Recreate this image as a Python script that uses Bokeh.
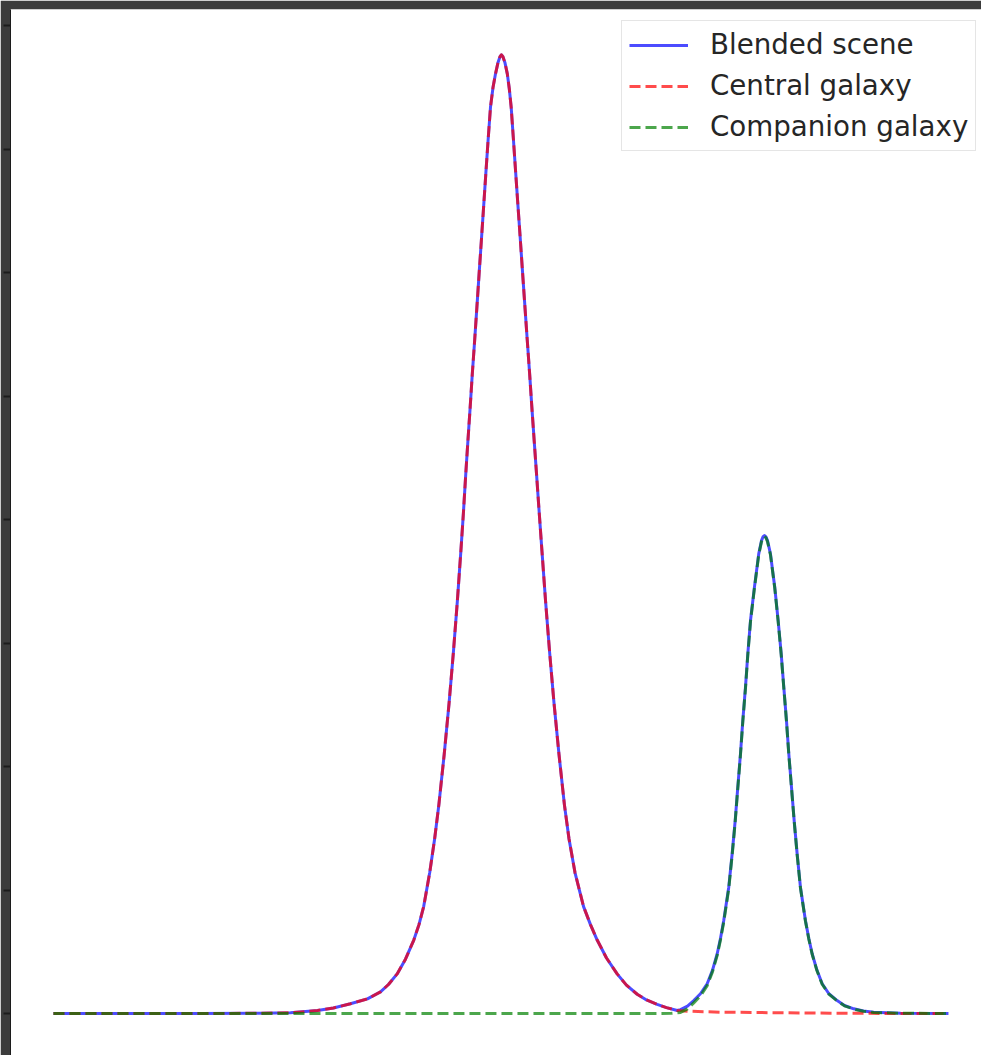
from bokeh.plotting import figure
from bokeh.models import Range1d, FixedTicker, Legend, LegendItem
from bokeh.embed import file_html
from bokeh.resources import INLINE

# ---- data (x in arbitrary position units, y = flux) ----
central_x = [0.00, 16.42, 23.13, 26.48, 29.50, 31.28, 33.18, 35.08, 36.54, 37.43,
             38.40, 39.33, 40.26, 40.84, 41.37, 42.04, 42.59, 43.06, 43.66, 44.20,
             44.68, 45.12, 45.52, 45.80, 46.07, 46.31, 46.56, 46.80, 47.06, 47.31,
             47.56, 47.81, 48.06, 48.31, 48.56, 48.83, 49.11, 49.39, 49.66, 49.89,
             50.06, 50.22, 50.45, 50.71, 50.93, 51.14, 51.40, 51.65, 51.91, 52.17,
             52.42, 52.68, 52.94, 53.20, 53.45, 53.71, 53.97, 54.28, 54.58, 54.99,
             55.44, 55.93, 56.48, 57.09, 57.60, 58.27, 59.22, 60.00, 60.75, 61.79,
             62.98, 64.02, 65.22, 66.26, 67.45, 68.49, 69.69, 71.17, 74.53, 80.11,
             86.82, 92.40, 100.00]
central_y = [0.0, 0.0, 0.002, 0.006, 0.024, 0.045, 0.079, 0.119, 0.175, 0.235,
             0.321, 0.44, 0.595, 0.72, 0.868, 1.142, 1.416, 1.690, 2.101, 2.512,
             2.922, 3.334, 3.745, 4.05, 4.374, 4.641, 4.911, 5.184, 5.451, 5.721,
             5.994, 6.261, 6.531, 6.804, 7.071, 7.341, 7.50, 7.611, 7.70, 7.75,
             7.765, 7.75, 7.70, 7.611, 7.49, 7.341, 7.071, 6.804, 6.531, 6.261,
             5.994, 5.721, 5.451, 5.184, 4.911, 4.641, 4.374, 4.05, 3.745, 3.334,
             2.922, 2.512, 2.101, 1.690, 1.416, 1.142, 0.868, 0.72, 0.595, 0.45,
             0.321, 0.23, 0.156, 0.11, 0.074, 0.048, 0.024, 0.018, 0.011, 0.007,
             0.003, 0.001, 0.0]

companion_x = [0.00, 66.82, 69.05, 70.06, 70.84, 71.54, 72.29, 73.04, 73.63, 74.16,
               74.53, 74.89, 75.45, 75.83, 76.17, 76.46, 76.76, 77.02, 77.32, 77.58,
               77.88, 78.32, 78.80, 79.11, 79.27, 79.44, 79.61, 79.78, 80.11, 80.59,
               80.97, 81.31, 81.60, 81.90, 82.16, 82.46, 82.76, 83.09, 83.46, 84.02,
               84.39, 84.77, 85.31, 85.89, 86.64, 87.56, 88.38, 89.42, 90.50, 91.65,
               94.64, 100.00]
companion_y = [0.0, 0.0, 0.002, 0.009, 0.038, 0.086, 0.143, 0.226, 0.337, 0.471,
               0.598, 0.741, 1.011, 1.282, 1.552, 1.822, 2.094, 2.364, 2.634, 2.905,
               3.175, 3.445, 3.715, 3.822, 3.852, 3.864, 3.852, 3.822, 3.716, 3.446,
               3.176, 2.907, 2.637, 2.367, 2.098, 1.827, 1.558, 1.289, 1.018, 0.748,
               0.605, 0.480, 0.346, 0.237, 0.157, 0.102, 0.062, 0.036, 0.018, 0.009,
               0.002, 0.0]

# blended scene: central profile up to the dip, then the values read over the companion
blended_tail_y = [0.032, 0.06, 0.105, 0.16, 0.241, 0.35, 0.484, 0.61, 0.753,
                  1.023, 1.294, 1.563, 1.833, 2.104, 2.373, 2.643, 2.914, 3.183, 3.453,
                  3.723, 3.83, 3.86, 3.872, 3.86, 3.83, 3.723, 3.453, 3.183, 2.914,
                  2.643, 2.373, 2.104, 1.833, 1.563, 1.294, 1.023, 0.753, 0.61, 0.484,
                  0.35, 0.241, 0.16, 0.105, 0.065, 0.038, 0.02, 0.011, 0.003, 0.0]
blended_x = [x for x in central_x if x < 70] + companion_x[3:]
blended_y = [y for x, y in zip(central_x, central_y) if x < 70] + blended_tail_y

y_ticks = [0, 1, 2, 3, 4, 5, 6, 7, 8]
labels = ["Blended scene", "Central galaxy", "Companion galaxy"]

p = figure(width=981, height=1055, output_backend="svg", toolbar_location=None,
           x_range=Range1d(-4.80, 103.69), y_range=Range1d(-0.340, 8.132),
           x_axis_location=None,
           min_border_left=10, min_border_top=9, min_border_right=0, min_border_bottom=0,
           background_fill_color="white", border_fill_color="#3c3c3c",
           outline_line_color=None)

p.grid.visible = False
ax = p.yaxis[0]
ax.ticker = FixedTicker(ticks=y_ticks)
ax.major_label_text_font_size = "0px"
ax.major_label_text_color = None
ax.major_label_standoff = 0
ax.major_tick_out = 7
ax.major_tick_in = 0
ax.major_tick_line_width = 2
ax.major_tick_line_color = "#1c1c1c"
ax.minor_tick_line_color = None
ax.axis_line_color = "#1c1c1c"
ax.axis_line_width = 1

r_b = p.line(blended_x, blended_y, line_color="blue", line_alpha=0.7, line_width=3,
             line_join="round")
r_c = p.line(central_x, central_y, line_color="red", line_alpha=0.7, line_width=3,
             line_dash="11 5", line_join="round")
r_g = p.line(companion_x, companion_y, line_color="green", line_alpha=0.7, line_width=3,
             line_dash="11 5", line_join="round")

legend = Legend(items=[LegendItem(label=labels[0], renderers=[r_b]),
                       LegendItem(label=labels[1], renderers=[r_c]),
                       LegendItem(label=labels[2], renderers=[r_g])],
                location=(611, 904), padding=7, spacing=8,
                glyph_width=59, glyph_height=30, label_height=30,
                label_standoff=22,
                label_text_font="DejaVu Sans", label_text_font_size="27.7px",
                label_text_color="#262626",
                border_line_color="#cccccc", border_line_width=1,
                background_fill_color="white", background_fill_alpha=0.8)
p.add_layout(legend)

open("out.html", "w").write(file_html(p, INLINE))
